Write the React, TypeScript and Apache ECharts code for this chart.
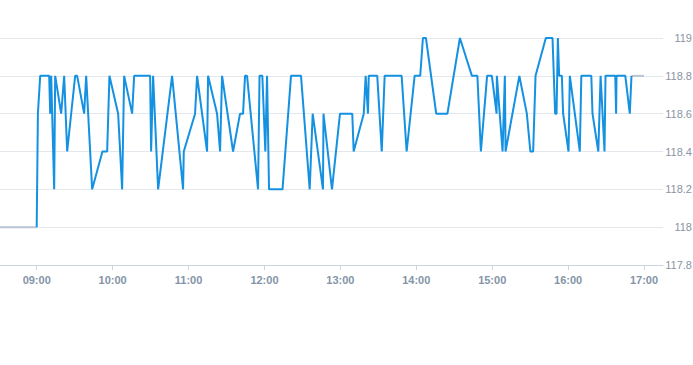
import React, { useEffect, useRef } from "react";
import * as echarts from "echarts";

// Intraday price ticks (time, price)
const times: string[] = [
  "09:00:00", "09:00:57", "09:02:46", "09:09:52", "09:10:40", "09:11:27", "09:13:49", "09:14:37",
  "09:19:21", "09:21:43", "09:24:05", "09:30:25", "09:31:59", "09:37:31", "09:39:06", "09:43:50",
  "09:51:58", "09:55:41", "09:57:30", "10:04:22", "10:07:32", "10:09:07", "10:15:26", "10:17:01",
  "10:29:39", "10:30:26", "10:32:01", "10:35:58", "10:47:01", "10:55:42", "10:56:15", "11:05:11",
  "11:06:46", "11:14:40", "11:15:27", "11:22:33", "11:24:56", "11:26:31", "11:35:12", "11:40:43",
  "11:43:05", "11:44:40", "11:46:15", "11:54:56", "11:56:07", "11:58:20", "12:00:42", "12:02:03",
  "12:03:38", "12:14:17", "12:21:00", "12:28:54", "12:35:46", "12:38:08", "12:46:16", "12:46:40",
  "12:53:23", "12:59:42", "13:09:25", "13:10:31", "13:18:30", "13:20:00", "13:21:49", "13:22:27",
  "13:29:10", "13:32:43", "13:35:01", "13:48:26", "13:52:23", "13:58:42", "14:03:07", "14:05:15",
  "14:07:38", "14:15:46", "14:24:37", "14:34:29", "14:43:58", "14:48:18", "14:51:04", "14:55:58",
  "14:59:45", "15:03:28", "15:03:42", "15:08:12", "15:10:01", "15:10:34", "15:21:28", "15:27:23",
  "15:30:10", "15:32:22", "15:34:16", "15:42:24", "15:47:41", "15:49:45", "15:50:52", "15:51:54",
  "15:52:55", "15:55:03", "15:56:04", "16:00:20", "16:01:22", "16:09:15", "16:10:27", "16:18:20",
  "16:19:17", "16:23:52", "16:25:41", "16:28:46", "16:29:34", "16:37:18", "16:37:56", "16:38:15",
  "16:45:12", "16:48:45", "16:50:05",
];
const prices: number[] = [
  118.0, 118.6, 118.8, 118.8, 118.6, 118.8, 118.2, 118.8,
  118.6, 118.8, 118.4, 118.8, 118.8, 118.6, 118.8, 118.2,
  118.4, 118.4, 118.8, 118.6, 118.2, 118.8, 118.6, 118.8,
  118.8, 118.4, 118.8, 118.2, 118.8, 118.2, 118.4, 118.6,
  118.8, 118.4, 118.8, 118.6, 118.4, 118.8, 118.4, 118.6,
  118.6, 118.8, 118.8, 118.2, 118.8, 118.8, 118.4, 118.8,
  118.2, 118.2, 118.8, 118.8, 118.2, 118.6, 118.2, 118.6,
  118.2, 118.6, 118.6, 118.4, 118.6, 118.8, 118.6, 118.8,
  118.8, 118.4, 118.8, 118.8, 118.4, 118.8, 118.8, 119.0,
  119.0, 118.6, 118.6, 119.0, 118.8, 118.8, 118.4, 118.8,
  118.8, 118.6, 118.8, 118.4, 118.8, 118.4, 118.8, 118.6,
  118.4, 118.4, 118.8, 119.0, 119.0, 118.6, 118.6, 119.0,
  118.8, 118.8, 118.6, 118.4, 118.8, 118.4, 118.8, 118.8,
  118.6, 118.4, 118.8, 118.4, 118.8, 118.8, 118.6, 118.8,
  118.8, 118.6, 118.8,
];

// Pre-open and after-close reference segments
const preTimes: string[] = ["08:31:00", "09:00:00"];
const preValues: number[] = [118.0, 118.0];
const postTimes: string[] = ["16:50:05", "17:00:00"];
const postValues: number[] = [118.8, 118.8];

const hourTicks: string[] = ["09:00", "10:00", "11:00", "12:00", "13:00", "14:00", "15:00", "16:00", "17:00"];
const axisStart = "08:31";
const axisEnd = "17:15";
const yMin = 117.8;
const yMax = 119;
const yStep = 0.2;

const toMin = (t: string): number => {
  const p = t.split(":").map(Number);
  return p[0] * 60 + p[1] + (p[2] || 0) / 60;
};
const fmt = (m: number): string => {
  const h = Math.floor(m / 60);
  const mm = Math.round(m - h * 60);
  return String(h).padStart(2, "0") + ":" + String(mm).padStart(2, "0");
};

export default function App() {
  const ref = useRef<HTMLDivElement>(null);
  useEffect(() => {
    document.body.style.margin = "0";
    if (!ref.current) return;
    const chart = echarts.init(ref.current, undefined, { renderer: "svg" });
    const tickVals = hourTicks.map(toMin);
    chart.setOption({
      animation: false,
      grid: { left: 0, right: 30, top: 38, bottom: 100, outerBoundsMode: "none", containLabel: false },
      xAxis: {
        type: "value",
        min: toMin(axisStart),
        max: toMin(axisEnd),
        splitLine: { show: false },
        axisLine: { show: true, lineStyle: { color: "#ccd4de", width: 1 } },
        axisTick: { show: true, customValues: tickVals, length: 5, lineStyle: { color: "#ccd4de" } },
        axisLabel: {
          customValues: tickVals,
          formatter: (v: number) => fmt(v),
          color: "#8494a8",
          fontSize: 11,
          fontWeight: "bold",
          fontFamily: "Liberation Sans, Arial, sans-serif",
          margin: 9,
        },
      },
      yAxis: {
        type: "value",
        position: "right",
        min: yMin,
        max: yMax,
        interval: yStep,
        axisLine: { show: false },
        axisTick: { show: false },
        splitLine: { show: true, lineStyle: { color: "#e4e8ed", width: 1 } },
        axisLabel: {
          align: "right",
          margin: 29,
          color: "#8a94a3",
          fontSize: 11,
          fontFamily: "Liberation Sans, Arial, sans-serif",
        },
      },
      series: [
        {
          type: "line",
          data: preTimes.map((t, i) => [toMin(t), preValues[i]]),
          showSymbol: false,
          lineStyle: { color: "#b9c5d2", width: 2 },
          z: 1,
        },
        {
          type: "line",
          data: postTimes.map((t, i) => [toMin(t), postValues[i]]),
          showSymbol: false,
          lineStyle: { color: "#b9c5d2", width: 2 },
          z: 1,
        },
        {
          type: "line",
          data: times.map((t, i) => [toMin(t), prices[i]]),
          showSymbol: false,
          lineStyle: { color: "#1591e2", width: 2 },
          z: 2,
        },
      ],
    });
    return () => chart.dispose();
  }, []);
  return <div ref={ref} style={{ width: 693, height: 365 }} />;
}
